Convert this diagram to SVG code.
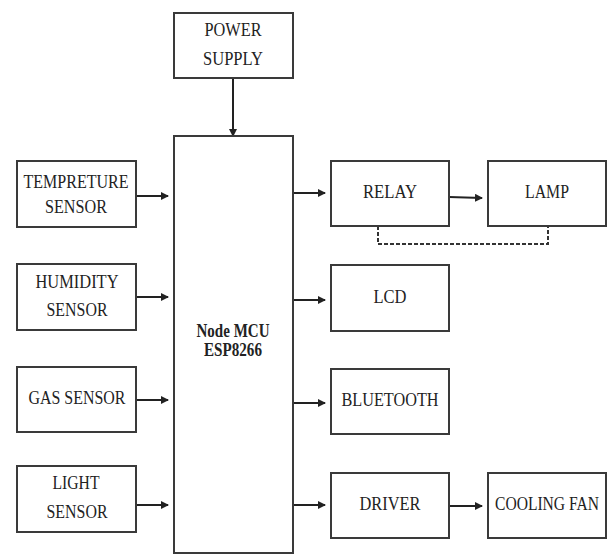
<svg xmlns="http://www.w3.org/2000/svg" width="608" height="555" viewBox="0 0 608 555">
<style>
.box{fill:#fff;stroke:#3a3a3a;stroke-width:2}
text{font-family:'Liberation Serif',serif;font-size:19px;fill:#222;text-anchor:middle}
.b{font-weight:bold}
.c{stroke:#222;stroke-width:2;fill:none}
.d{stroke:#333;stroke-width:2;fill:none;stroke-dasharray:4 2}
</style>
<defs>
<marker id="ah" viewBox="0 0 8 8" refX="7" refY="4" markerWidth="4" markerHeight="4" orient="auto" markerUnits="strokeWidth">
<path d="M0,0 L8,4 L0,8 Z" fill="#222"/>
</marker>
</defs>
<rect width="608" height="555" fill="#fff"/>
<g id="connectors">
<line class="c" x1="233" y1="78" x2="233" y2="136" marker-end="url(#ah)"/>
<line class="c" x1="136" y1="196" x2="168" y2="196" marker-end="url(#ah)"/>
<line class="c" x1="136" y1="297" x2="168" y2="297" marker-end="url(#ah)"/>
<line class="c" x1="136" y1="400" x2="168" y2="400" marker-end="url(#ah)"/>
<line class="c" x1="136" y1="505" x2="168" y2="505" marker-end="url(#ah)"/>
<line class="c" x1="293" y1="193" x2="325" y2="193" marker-end="url(#ah)"/>
<line class="c" x1="293" y1="300" x2="325" y2="300" marker-end="url(#ah)"/>
<line class="c" x1="293" y1="403" x2="325" y2="403" marker-end="url(#ah)"/>
<line class="c" x1="293" y1="505" x2="325" y2="505" marker-end="url(#ah)"/>
<line class="c" x1="449" y1="197" x2="482" y2="198" marker-end="url(#ah)"/>
<line class="c" x1="449" y1="506" x2="482" y2="506" marker-end="url(#ah)"/>
<path class="d" d="M378,226 V244 H548 V226"/>
</g>
<g id="power">
<rect class="box" x="174" y="13" width="119" height="65"/>
<text x="233" y="36" textLength="57" lengthAdjust="spacingAndGlyphs">POWER</text>
<text x="233" y="65" textLength="60" lengthAdjust="spacingAndGlyphs">SUPPLY</text>
</g>
<g id="mcu">
<rect class="box" x="174" y="136" width="119" height="417"/>
<text class="b" x="233" y="337" textLength="73" lengthAdjust="spacingAndGlyphs">Node MCU</text>
<text class="b" x="233" y="356" textLength="58" lengthAdjust="spacingAndGlyphs">ESP8266</text>
</g>
<g id="temp">
<rect class="box" x="17" y="161" width="119" height="66"/>
<text x="76" y="188" textLength="105" lengthAdjust="spacingAndGlyphs">TEMPRETURE</text>
<text x="76" y="213" textLength="62" lengthAdjust="spacingAndGlyphs">SENSOR</text>
</g>
<g id="humidity">
<rect class="box" x="17" y="264" width="119" height="66"/>
<text x="77" y="288" textLength="83" lengthAdjust="spacingAndGlyphs">HUMIDITY</text>
<text x="77" y="316" textLength="61" lengthAdjust="spacingAndGlyphs">SENSOR</text>
</g>
<g id="gas">
<rect class="box" x="17" y="367" width="119" height="65"/>
<text x="77" y="404" textLength="97" lengthAdjust="spacingAndGlyphs">GAS SENSOR</text>
</g>
<g id="light">
<rect class="box" x="17" y="466" width="119" height="66"/>
<text x="76" y="489" textLength="47" lengthAdjust="spacingAndGlyphs">LIGHT</text>
<text x="77" y="518" textLength="61" lengthAdjust="spacingAndGlyphs">SENSOR</text>
</g>
<g id="relay">
<rect class="box" x="331" y="161" width="118" height="65"/>
<text x="390" y="198" textLength="54" lengthAdjust="spacingAndGlyphs">RELAY</text>
</g>
<g id="lamp">
<rect class="box" x="488" y="161" width="118" height="65"/>
<text x="547" y="198" textLength="44" lengthAdjust="spacingAndGlyphs">LAMP</text>
</g>
<g id="lcd">
<rect class="box" x="331" y="265" width="118" height="66"/>
<text x="390" y="303" textLength="33" lengthAdjust="spacingAndGlyphs">LCD</text>
</g>
<g id="bluetooth">
<rect class="box" x="331" y="369" width="118" height="65"/>
<text x="390" y="406" textLength="97" lengthAdjust="spacingAndGlyphs">BLUETOOTH</text>
</g>
<g id="driver">
<rect class="box" x="331" y="473" width="118" height="65"/>
<text x="390" y="510" textLength="61" lengthAdjust="spacingAndGlyphs">DRIVER</text>
</g>
<g id="fan">
<rect class="box" x="488" y="473" width="118" height="65"/>
<text x="547" y="510" font-size="16" textLength="104" lengthAdjust="spacingAndGlyphs">COOLING FAN</text>
</g>
</svg>
